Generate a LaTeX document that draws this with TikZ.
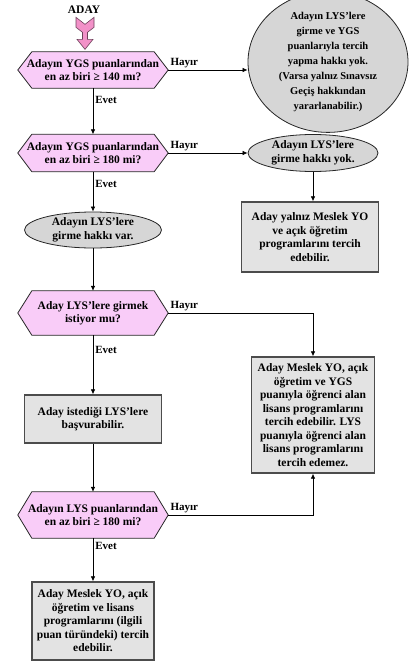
\documentclass[tikz,border=0pt]{standalone}
\usepackage{fontspec}
\setmainfont{Liberation Serif}
\usetikzlibrary{arrows.meta,shapes.geometric,backgrounds}
\definecolor{decpink}{RGB}{249,204,248}
\definecolor{arrowpink}{RGB}{242,145,200}
\definecolor{ovalgray}{RGB}{214,214,214}
\definecolor{boxgray}{RGB}{227,227,227}
\tikzset{
  % text of every box
  every node/.style={font=\bfseries\fontsize{11.5}{13.5}\selectfont, align=center},
  decision/.style={rectangle, minimum width=150pt, inner sep=1pt},
  hexa/.style={draw=black!85, line width=.8pt, fill=decpink},
  oval/.style={ellipse, draw=black!85, line width=.8pt, fill=ovalgray, inner sep=0pt},
  result/.style={rectangle, draw=black!70, line width=1.4pt, fill=boxgray, inner sep=2pt},
  flow/.style={-{Latex[length=5pt,width=4.5pt]}, line width=.7pt},
  yesno/.style={font=\bfseries\fontsize{11}{13}\selectfont, inner sep=2pt},
}
\begin{document}
\begin{tikzpicture}[x=1pt,y=-1pt]
\useasboundingbox (0,0) rectangle (416,666);

\node (aday) at (84,10) {ADAY};
\node[decision, minimum height=36pt] (ygs140) at (93,70) {Adayın YGS puanlarından\\en az biri ≥ 140 mı?};
\node[oval, minimum width=160pt, minimum height=110pt, font=\bfseries\fontsize{10.5}{15}\selectfont] (nohak1) at (328,62) {Adayın LYS'lere\\girme ve YGS\\puanlarıyla tercih\\yapma hakkı yok.\\(Varsa yalnız Sınavsız\\Geçiş hakkından\\yararlanabilir.)};
\node[decision, minimum height=37pt] (ygs180) at (93,153) {Adayın YGS puanlarından\\en az biri ≥ 180 mi?};
\node[oval, minimum width=130pt, minimum height=37pt] (nohak2) at (313,153) {Adayın LYS'lere\\girme hakkı yok.};
\node[result, minimum width=137pt, minimum height=70pt] (myo) at (310,237) {Aday yalnız Meslek YO\\ve açık öğretim\\programlarını tercih\\edebilir.};
\node[oval, minimum width=137pt, minimum height=36pt] (hakvar) at (93,230) {Adayın LYS'lere\\girme hakkı var.};
\node[decision, minimum height=44pt] (istek) at (93,313) {Aday LYS'lere girmek\\istiyor mu?};
\node[result, minimum width=123pt, minimum height=116pt] (ygsalan) at (313,415) {Aday Meslek YO, açık\\öğretim ve YGS\\puanıyla öğrenci alan\\lisans programlarını\\tercih edebilir. LYS\\puanıyla öğrenci alan\\lisans programlarını\\tercih edemez.};
\node[result, minimum width=137pt, minimum height=48pt] (basvuru) at (93,419) {Aday istediği LYS'lere\\başvurabilir.};
\node[decision, minimum height=46pt] (lys180) at (93,515) {Adayın LYS puanlarından\\en az biri ≥ 180 mi?};
\node[result, minimum width=122pt, minimum height=78pt] (lisans) at (93,621) {Aday Meslek YO, açık\\öğretim ve lisans\\programlarını (ilgili\\puan türündeki) tercih\\edebilir.};

% hexagons behind the questions
\begin{scope}[on background layer]
\foreach \q in {ygs140,ygs180,istek,lys180}
  \draw[hexa] (\q.west) -- ([xshift=14pt]\q.north west) -- ([xshift=-14pt]\q.north east) -- (\q.east) -- ([xshift=-14pt]\q.south east) -- ([xshift=14pt]\q.south west) -- cycle;
\end{scope}

% pink start arrow
\begin{scope}[shift={(aday.south)}, xshift=1pt]
\draw[fill=arrowpink, draw=black!55!arrowpink, line width=.6pt] (-9,0) -- (0,7) -- (9,0) -- (9,10) -- (2.5,15) -- (2.5,22) -- (8,22) -- (0,32) -- (-8,22) -- (-2.5,22) -- (-2.5,15) -- (-9,10) -- cycle;
\end{scope}

\draw[flow] (ygs140.east) -- (ygs140.east -| nohak1.west) node[pos=0, above right, yesno] {Hayır};
\draw[flow] (ygs140.south) -- (ygs180.north) node[pos=.25, right, yesno] {Evet};
\draw[flow] (ygs180.east) -- (nohak2.west) node[pos=0, above right, yesno] {Hayır};
\draw[flow] (nohak2.south) -- (nohak2.south |- myo.north);
\draw[flow] (ygs180.south) -- (hakvar.north) node[pos=.3, right, yesno] {Evet};
\draw[flow] (hakvar.south) -- (istek.north);
\draw[flow] (istek.east) -| (ygsalan.north) node[pos=0, above right, yesno] {Hayır};
\draw[flow] (istek.south) -- (basvuru.north) node[pos=.25, right, yesno] {Evet};
\draw[flow] (basvuru.south) -- (lys180.north);
\draw[flow] (lys180.east) -| (ygsalan.south) node[pos=0, above right, yesno] {Hayır};
\draw[flow] (lys180.south) -- (lisans.north) node[pos=.18, right, yesno] {Evet};
\end{tikzpicture}
\end{document}
